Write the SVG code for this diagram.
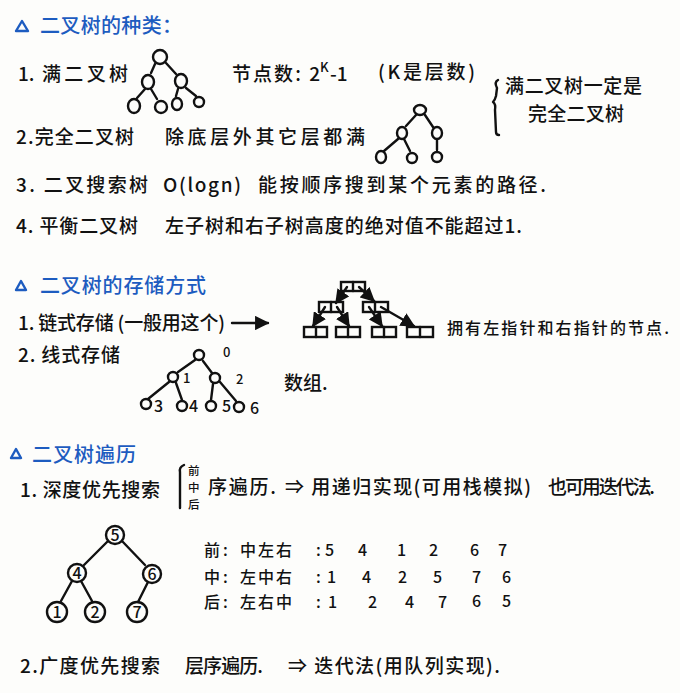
<svg xmlns="http://www.w3.org/2000/svg" width="680" height="693" viewBox="0 0 680 693">
<style>
.t{font-family:"Noto Sans CJK SC","Noto Sans",sans-serif;font-size:19px;fill:#111;font-weight:500}
.s{font-size:16px}
.n{font-size:16px}
.xs{font-size:13px}
.xxs{font-size:11.5px}
.h{fill:#1d5cc0;font-size:20px}
.ln{stroke:#111;stroke-width:2.4;fill:none;stroke-linecap:round;stroke-linejoin:round}
.hl{stroke:#1d5cc0;stroke-width:2.4;fill:none;stroke-linejoin:round}
.c{stroke:#111;stroke-width:2.4;fill:none}
</style>
<defs>
<marker id="ah" viewBox="0 0 10 10" refX="9" refY="5" markerWidth="6" markerHeight="6" orient="auto-start-reverse">
<path d="M0,0 L10,5 L0,10 z" fill="#111"/>
</marker>
</defs>
<rect width="680" height="693" fill="#fdfdfb"/>

<!-- Section 1 heading -->
<g id="heading1">
<path class="hl" d="M16,31 L22,21 L28,31 Z"/>
<text class="t h" x="40" y="33" textLength="142">二叉树的种类：</text>
</g>

<g id="item1">
<text class="t" x="18" y="81">1.</text>
<text class="t" x="42" y="81" textLength="86">满二叉树</text>
<text class="t" x="232" y="81" textLength="88">节点数: 2</text>
<text class="t xs" x="320" y="72">K</text>
<text class="t" x="330" y="81">-1</text>
<text class="t" x="378" y="79" textLength="97">(K是层数)</text>
</g>
<g id="fulltree-edges">
<path class="ln" d="M155,64 L151,73 M166,63 L176,74 M145,89 L137,98 M151,89 L157,99 M178,89 L176,96 M186,88 L196,96"/>
</g>
<g id="fulltree-nodes">
<ellipse class="c" cx="160" cy="57" rx="7" ry="7"/>
<ellipse class="c" cx="148" cy="82" rx="6" ry="7"/>
<ellipse class="c" cx="181" cy="81" rx="6" ry="7"/>
<ellipse class="c" cx="134" cy="106" rx="6" ry="7"/>
<ellipse class="c" cx="161" cy="107" rx="6" ry="6"/>
<ellipse class="c" cx="177" cy="104" rx="5" ry="6"/>
<ellipse class="c" cx="199" cy="102" rx="5" ry="5"/>
</g>

<g id="note-brace">
<path class="ln" d="M498,80 Q494,82 497,88 L496,96 Q495,100 493,102 Q496,104 495,110 L496,132 Q496,135 499,135"/>
<text class="t" x="505" y="93" textLength="137">满二叉树一定是</text>
<text class="t" x="528" y="121" textLength="96">完全二叉树</text>
</g>

<g id="item2">
<text class="t" x="16" y="144" textLength="118">2.完全二叉树</text>
<text class="t" x="165" y="144" textLength="200">除底层外其它层都满</text>
</g>
<g id="completetree-edges">
<path class="ln" d="M416,115 L406,126 M425,115 L433,127 M398,139 L384,151 M404,139 L410,151 M437,140 L437,150"/>
</g>
<g id="completetree-nodes">
<ellipse class="c" cx="420" cy="110" rx="6" ry="5"/>
<ellipse class="c" cx="402" cy="133" rx="5" ry="6"/>
<ellipse class="c" cx="437" cy="133" rx="5" ry="6"/>
<ellipse class="c" cx="381" cy="157" rx="5" ry="6"/>
<ellipse class="c" cx="412" cy="158" rx="5" ry="5"/>
<ellipse class="c" cx="437" cy="157" rx="5" ry="5"/>
</g>

<g id="item3">
<text class="t" x="16" y="192" textLength="132">3. 二叉搜索树</text>
<text class="t" x="163" y="192" textLength="78">O(logn)</text>
<text class="t" x="258" y="192" textLength="288">能按顺序搜到某个元素的路径.</text>
</g>
<g id="item4">
<text class="t" x="16" y="233" textLength="122">4. 平衡二叉树</text>
<text class="t" x="165" y="233" textLength="357">左子树和右子树高度的绝对值不能超过1.</text>
</g>

<!-- Section 2 -->
<g id="heading2">
<path class="hl" d="M16,290 L21,281 L26,290 Z"/>
<text class="t h" x="40" y="293" textLength="166">二叉树的存储方式</text>
</g>
<g id="storage1">
<text class="t" x="18" y="330" textLength="207">1. 链式存储 (一般用这个)</text>
<path class="ln" d="M232,323 L268,323" marker-end="url(#ah)"/>
</g>
<g id="linked-nodes">
<g id="ln-root"><rect class="c" x="341" y="282" width="24" height="9"/><path class="ln" d="M353,282 L353,291"/></g>
<g id="ln-l"><rect class="c" x="319" y="302" width="24" height="10"/><path class="ln" d="M331,302 L331,312"/></g>
<g id="ln-r"><rect class="c" x="363" y="302" width="25" height="10"/><path class="ln" d="M375,302 L375,312"/></g>
<g id="ln-ll"><rect class="c" x="304" y="327" width="23" height="10"/><path class="ln" d="M316,327 L316,337"/></g>
<g id="ln-lr"><rect class="c" x="336" y="327" width="24" height="10"/><path class="ln" d="M348,327 L348,337"/></g>
<g id="ln-rl"><rect class="c" x="372" y="327" width="24" height="10"/><path class="ln" d="M384,327 L384,337"/></g>
<g id="ln-rr"><rect class="c" x="407" y="327" width="26" height="10"/><path class="ln" d="M420,327 L420,337"/></g>
</g>
<g id="linked-edges">
<path class="ln" d="M347,287 L336,303" marker-end="url(#ah)"/>
<path class="ln" d="M359,287 L374,301" marker-end="url(#ah)"/>
<path class="ln" d="M325,307 L313,326" marker-end="url(#ah)"/>
<path class="ln" d="M337,307 L349,326" marker-end="url(#ah)"/>
<path class="ln" d="M369,307 L382,326" marker-end="url(#ah)"/>
<path class="ln" d="M381,307 L414,326" marker-end="url(#ah)"/>
</g>
<text class="t s" x="447" y="334" textLength="222">拥有左指针和右指针的节点.</text>

<g id="storage2">
<text class="t" x="18" y="362" textLength="102">2. 线式存储</text>
<text class="t" x="284" y="390">数组.</text>
</g>
<g id="array-edges">
<path class="ln" d="M195,360 L178,372 M203,361 L212,373 M169,382 L148,399 M176,383 L182,400 M213,384 L211,400 M220,382 L236,401"/>
</g>
<g id="array-nodes">
<ellipse class="c" cx="199" cy="355" rx="5" ry="5"/>
<ellipse class="c" cx="173" cy="377" rx="5" ry="5"/>
<ellipse class="c" cx="215" cy="378" rx="5" ry="5"/>
<ellipse class="c" cx="146" cy="404" rx="5" ry="5"/>
<ellipse class="c" cx="182" cy="406" rx="5" ry="5"/>
<ellipse class="c" cx="211" cy="406" rx="5" ry="5"/>
<ellipse class="c" cx="239" cy="407" rx="5" ry="5"/>
<text class="t xs" x="223" y="357">0</text>
<text class="t xs" x="183" y="383">1</text>
<text class="t xs" x="236" y="384">2</text>
<text class="t s" x="154" y="412">3</text>
<text class="t s" x="189" y="412">4</text>
<text class="t s" x="222" y="412">5</text>
<text class="t s" x="250" y="414">6</text>
</g>

<!-- Section 3 -->
<g id="heading3">
<path class="hl" d="M11,458 L16,449 L21,458 Z"/>
<text class="t h" x="32" y="462" textLength="104">二叉树遍历</text>
</g>
<g id="dfs">
<text class="t" x="20" y="497" textLength="140">1. 深度优先搜索</text>
<path class="ln" d="M184,465 Q179,467 180,472 L180,508"/>
<text class="t xxs" x="188" y="475">前</text>
<text class="t xxs" x="188" y="492">中</text>
<text class="t xxs" x="188" y="509">后</text>
<text class="t" x="208" y="494" textLength="68">序遍历.</text>
<text class="t" x="285" y="494" textLength="246">⇒ 用递归实现(可用栈模拟)</text>
<text class="t" x="548" y="494" textLength="107">也可用迭代法.</text>
</g>
<g id="bt-edges">
<path class="ln" d="M108,541 L84,565 M122,541 L145,565 M72,581 L61,601 M81,581 L92,601 M148,582 L138,602"/>
</g>
<g id="bt-nodes">
<g id="bt5"><circle class="c" cx="115" cy="535" r="9"/><text class="t s" x="115" y="541" text-anchor="middle">5</text></g>
<g id="bt4"><circle class="c" cx="77" cy="573" r="9"/><text class="t s" x="77" y="579" text-anchor="middle">4</text></g>
<g id="bt6"><circle class="c" cx="152" cy="574" r="9"/><text class="t s" x="152" y="580" text-anchor="middle">6</text></g>
<g id="bt1"><circle class="c" cx="57" cy="612" r="10"/><text class="t s" x="57" y="618" text-anchor="middle">1</text></g>
<g id="bt2"><circle class="c" cx="95" cy="612" r="10"/><text class="t s" x="95" y="618" text-anchor="middle">2</text></g>
<g id="bt7"><circle class="c" cx="137" cy="612" r="10"/><text class="t s" x="137" y="618" text-anchor="middle">7</text></g>
</g>
<g id="traversal-table">
<text class="t s" x="204" y="556">前</text>
<text class="t s" x="223" y="556">:</text>
<text class="t s" x="240" y="556" textLength="52">中左右</text>
<text class="t s" x="316" y="556">:</text>
<text class="t n" x="325" y="556">5</text><text class="t n" x="358" y="556">4</text><text class="t n" x="397" y="556">1</text><text class="t n" x="429" y="556">2</text><text class="t n" x="470" y="556">6</text><text class="t n" x="498" y="556">7</text>
<text class="t s" x="204" y="583">中</text>
<text class="t s" x="223" y="583">:</text>
<text class="t s" x="240" y="583" textLength="52">左中右</text>
<text class="t s" x="316" y="583">:</text>
<text class="t n" x="327" y="583">1</text><text class="t n" x="362" y="583">4</text><text class="t n" x="398" y="583">2</text><text class="t n" x="433" y="583">5</text><text class="t n" x="472" y="583">7</text><text class="t n" x="502" y="583">6</text>
<text class="t s" x="204" y="608">后</text>
<text class="t s" x="223" y="608">:</text>
<text class="t s" x="240" y="608" textLength="52">左右中</text>
<text class="t s" x="316" y="608">:</text>
<text class="t n" x="328" y="608">1</text><text class="t n" x="368" y="608">2</text><text class="t n" x="405" y="608">4</text><text class="t n" x="438" y="608">7</text><text class="t n" x="472" y="607">6</text><text class="t n" x="502" y="607">5</text>
</g>
<g id="bfs">
<text class="t" x="20" y="673" textLength="140">2.广度优先搜索</text>
<text class="t" x="185" y="673" textLength="78">层序遍历.</text>
<text class="t" x="288" y="673" textLength="212">⇒ 迭代法(用队列实现).</text>
</g>
</svg>
